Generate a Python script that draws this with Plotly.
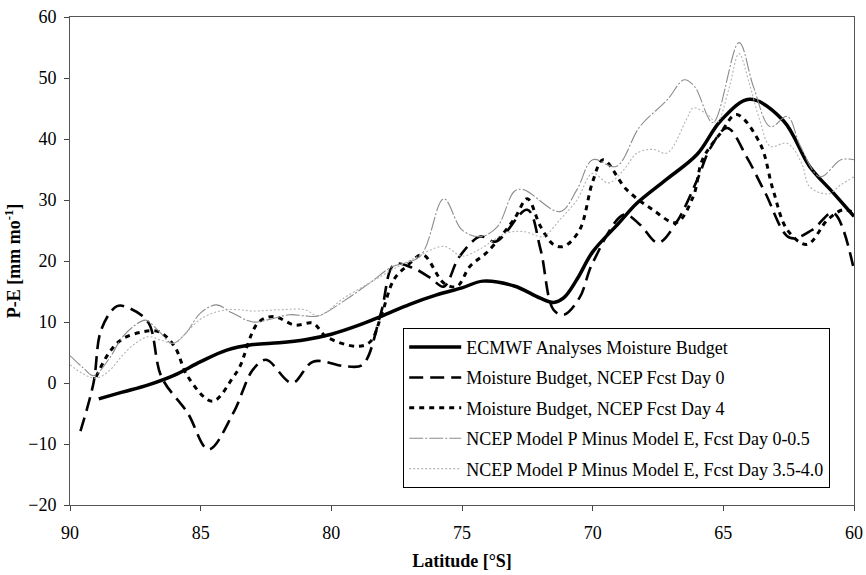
import plotly.graph_objects as go

# Latitude (deg S) and P-E (mm/month) for each estimate
ecmwf_lat = [88.9, 88, 87, 86, 85, 84, 83, 82, 81, 80, 79, 78, 77, 76, 75, 74.2, 73, 72, 71.5, 71.1,
             70.6, 70, 69, 68.3, 67.2, 66, 65.1, 64, 62.7, 61.7, 60.8, 60]
ecmwf_val = [-2.6, -1.5, -0.3, 1.3, 3.5, 5.4, 6.3, 6.6, 7.1, 8.0, 9.4, 11.1, 12.9, 14.4, 15.6, 16.7, 15.9, 13.9, 13.2, 14.0,
             17.0, 21.5, 26.2, 29.5, 33.3, 37.5, 43.0, 46.5, 43.0, 35.5, 31.2, 27.3]

day0_lat = [89.6, 89.1, 88.8, 88.2, 87.7, 87.0, 86.5, 85.5, 84.7, 83.75, 83.0, 82.5, 81.5, 80.7, 79.4, 78.8,
            78.1, 77.6, 76.9, 76.2, 75.7, 75.1, 74.3, 73.7, 72.5, 72.0, 71.5, 71.1, 70.5, 70.0, 68.8, 68.2,
            67.5, 66.8, 66.0, 65.5, 64.85, 64.1, 63.4, 62.45, 61.6, 60.8, 60.0]
day0_val = [-7.9, 0.0, 8.8, 12.6, 12.2, 9.9, 1.0, -4.9, -10.9, -4.9, 2.2, 3.8, 0.0, 3.5, 2.7, 3.0,
            11.5, 19.4, 18.9, 17.2, 15.8, 20.7, 24.0, 23.2, 28.4, 22.0, 12.0, 11.2, 14.0, 19.7, 27.6, 26.0,
            23.0, 26.3, 33.3, 38.5, 41.8, 37.0, 31.2, 23.8, 25.1, 27.9, 18.5]

day4_lat = [89.0, 88.5, 88.0, 87.2, 86.6, 86.0, 85.5, 84.55, 83.75, 83.5, 82.8, 82.2, 81.4, 80.7, 80.2, 79.0,
            78.5, 78.1, 77.6, 77.1, 76.5, 75.7, 75.2, 74.7, 74.0, 73.0, 72.5, 72.0, 71.5, 71.1, 70.5, 70.0,
            69.6, 68.7, 67.7, 66.8, 66.15, 65.8, 65.1, 64.5, 63.6, 63.1, 62.55, 61.8, 61.0, 60.4, 60.0]
day4_val = [1.0, 5.0, 7.2, 8.4, 8.4, 6.0, 1.1, -3.0, 1.0, 2.7, 9.9, 10.9, 9.5, 9.8, 7.6, 6.0,
            6.8, 10.9, 17.0, 19.2, 21.0, 16.4, 15.8, 19.1, 21.6, 26.9, 30.2, 25.7, 22.7, 22.4, 25.1, 33.0,
            36.6, 31.7, 28.4, 26.3, 30.6, 36.6, 41.0, 44.0, 39.3, 31.7, 25.1, 22.7, 26.8, 28.4, 27.9]

pe05_lat = [90, 89.5, 89.1, 88.5, 88, 87.5, 87.1, 86.6, 86.1, 85.6, 85, 84.4, 83.8, 83.0, 82.3, 81.6, 81,
            80.5, 79.5, 78.5, 77.7, 76.6, 75.7, 75.0, 74.3, 73.65, 73.0, 72.65, 71.25, 70.6, 70.0, 69.1,
            68.2, 67.15, 66.5, 66.1, 65.4, 64.4, 63.85, 63.2, 62.55, 62.05, 61.3, 60.5, 60]
pe05_val = [4.5, 2.5, 1.2, 4.0, 7.5, 9.5, 10.3, 8.5, 6.5, 8.0, 11.5, 12.8, 11.5, 10.0, 10.5, 11.2, 11.0,
            11.0, 13.5, 16.5, 19.0, 20.8, 30.2, 25.1, 24.0, 25.6, 31.4, 31.7, 28.1, 31.7, 36.6, 35.5,
            42.0, 46.4, 49.7, 48.6, 42.7, 55.8, 48.6, 42.0, 43.7, 38.8, 33.8, 36.6, 36.6]

pe40_lat = [90, 89.5, 89, 88.5, 88, 87.5, 87, 86.5, 86, 85.5, 85, 84.5, 84, 83.5, 83, 82, 81, 80.5,
            79.5, 78.5, 77.7, 76.8, 75.7, 75.0, 74.3, 73.3, 72.6, 71.9, 71.25, 70.6, 70.0, 69.4, 68.8,
            68.3, 67.7, 67.15, 66.4, 66.15, 65.6, 65.25, 64.8, 64.4, 64.0, 63.6, 63.2, 62.55, 62.0,
            61.7, 61.0, 60.5, 60]
pe40_val = [3.0, 1.5, 0.8, 2.0, 4.5, 6.5, 7.6, 7.0, 6.5, 8.5, 10.5, 11.5, 12.0, 12.0, 11.8, 12.0, 12.0, 11.0,
            14.0, 16.5, 18.5, 20.5, 22.4, 20.8, 22.0, 24.6, 24.8, 24.0, 26.8, 30.0, 34.4, 32.8, 35.0,
            37.7, 38.3, 37.7, 43.3, 45.1, 44.0, 42.7, 48.0, 54.0, 49.0, 43.0, 38.8, 39.3, 36.0,
            32.2, 31.0, 32.5, 33.8]

x_ticks = [90, 85, 80, 75, 70, 65, 60]
y_ticks = [-20, -10, 0, 10, 20, 30, 40, 50, 60]

SERIF = "Liberation Serif, Times New Roman, serif"
FS = 18

series = [
    ("ECMWF Analyses Moisture Budget", ecmwf_lat, ecmwf_val, "black", 3.5, "solid"),
    ("Moisture Budget, NCEP Fcst Day 0", day0_lat, day0_val, "black", 2.6, "14px,7px"),
    ("Moisture Budget, NCEP Fcst Day 4", day4_lat, day4_val, "black", 3.0, "5px,5px"),
    ("NCEP Model P Minus Model E, Fcst Day 0-0.5", pe05_lat, pe05_val, "#8c8c8c", 1.1, "14px,2px,2px,2px"),
    ("NCEP Model P Minus Model E, Fcst Day 3.5-4.0", pe40_lat, pe40_val, "#b4b4b4", 1.1, "2px,2px"),
]

fig = go.Figure()
for i, (name, lat, val, color, width, dash) in enumerate(series):
    fig.add_trace(go.Scatter(
        x=lat, y=val, name=name, mode="lines",
        line=dict(color=color, width=width, dash=dash, shape="spline", smoothing=1.0),
        legendgroup=f"g{i}",
    ))

fig.update_layout(
    width=866, height=575,
    margin=dict(l=70, r=12, t=17, b=70, autoexpand=False),
    paper_bgcolor="white", plot_bgcolor="white",
    font=dict(family=SERIF, size=FS, color="black"),
    showlegend=True,
    legend=dict(
        x=0.425, y=0.363, xanchor="left", yanchor="top",
        bgcolor="white", bordercolor="black", borderwidth=1,
        font=dict(family=SERIF, size=FS, color="black"),
        traceorder="grouped", tracegroupgap=4,
        itemwidth=52,
    ),
    xaxis=dict(
        range=[90, 60], tickvals=x_ticks, ticks="outside", ticklen=5, tickcolor="#444",
        showgrid=False, zeroline=False, showline=True, linecolor="#555", linewidth=1, mirror=True,
        automargin=False, ticklabelstandoff=6,
        title=dict(text="<b>Latitude [°S]</b>", font=dict(family=SERIF, size=FS), standoff=12),
        tickfont=dict(family=SERIF, size=FS),
    ),
    yaxis=dict(
        range=[-20, 60], tickvals=y_ticks, ticks="outside", ticklen=5, tickcolor="#444",
        showgrid=False, zeroline=False, showline=True, linecolor="#555", linewidth=1, mirror=True,
        automargin=True, ticklabelstandoff=4,
        title=dict(text="<b>P-E [mm mo<sup>-1</sup>]</b>", font=dict(family=SERIF, size=FS), standoff=2),
        tickfont=dict(family=SERIF, size=FS),
    ),
)

fig.write_html("out.html")
